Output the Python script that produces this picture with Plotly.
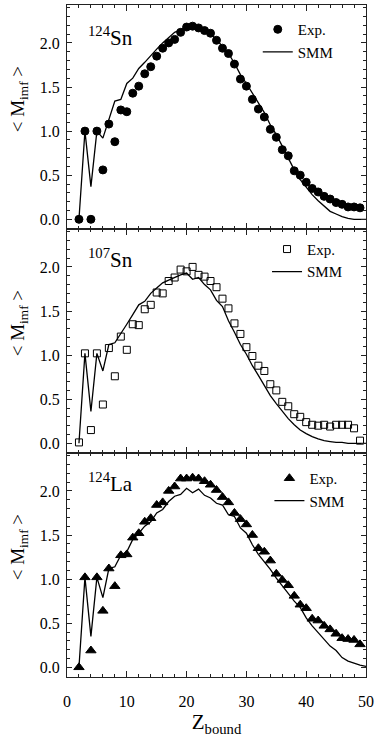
import plotly.graph_objects as go
from plotly.subplots import make_subplots

FONT = "Liberation Serif, Times New Roman, serif"

# Z_bound values
z_exp = list(range(2, 50))
z_smm = list(range(2, 51))

# 124Sn
sn124_exp = [0.0, 1.0, 0.0, 1.0, 0.56, 1.08, 0.88, 1.24, 1.22, 1.43, 1.51, 1.65, 1.73, 1.85, 1.94, 2.00,
             2.04, 2.12, 2.18, 2.19, 2.17, 2.14, 2.11, 2.03, 1.94, 1.88, 1.76, 1.59, 1.51, 1.36, 1.25, 1.16,
             1.02, 0.93, 0.79, 0.72, 0.55, 0.50, 0.42, 0.35, 0.31, 0.26, 0.23, 0.19, 0.17, 0.14, 0.14, 0.13]
sn124_smm = [0.0, 1.0, 0.37, 1.0, 0.92, 1.12, 1.34, 1.36, 1.54, 1.60, 1.71, 1.78, 1.86, 1.93, 2.00, 2.06,
             2.12, 2.15, 2.18, 2.19, 2.17, 2.13, 2.10, 2.04, 1.96, 1.88, 1.77, 1.64, 1.54, 1.43, 1.32, 1.21,
             1.07, 0.96, 0.83, 0.70, 0.56, 0.45, 0.36, 0.28, 0.21, 0.15, 0.09, 0.06, 0.03, 0.01, 0.0, 0.0, 0.0]

# 107Sn
sn107_exp = [0.01, 1.02, 0.15, 1.02, 0.44, 1.08, 0.76, 1.21, 1.06, 1.35, 1.34, 1.52, 1.57, 1.71, 1.70, 1.84,
             1.88, 1.97, 1.95, 2.00, 1.91, 1.89, 1.84, 1.77, 1.64, 1.53, 1.36, 1.24, 1.09, 0.99, 0.88, 0.82,
             0.67, 0.60, 0.47, 0.42, 0.33, 0.30, 0.24, 0.21, 0.20, 0.21, 0.19, 0.21, 0.21, 0.21, 0.17, 0.03]
sn107_smm = [0.0, 1.02, 0.36, 1.02, 0.82, 1.12, 1.14, 1.24, 1.35, 1.46, 1.57, 1.61, 1.70, 1.76, 1.82, 1.85,
             1.88, 1.91, 1.93, 1.86, 1.88, 1.80, 1.74, 1.62, 1.55, 1.39, 1.26, 1.12, 1.01, 0.88, 0.77, 0.66,
             0.54, 0.45, 0.36, 0.28, 0.21, 0.15, 0.11, 0.075, 0.05, 0.03, 0.02, 0.01, 0.01, 0.0, 0.0, 0.0, 0.0]

# 124La
la124_exp = [0.0, 1.02, 0.19, 1.02, 0.64, 1.12, 0.92, 1.27, 1.28, 1.47, 1.52, 1.65, 1.69, 1.84, 1.87, 2.00,
             2.05, 2.14, 2.14, 2.15, 2.14, 2.11, 2.07, 2.01, 1.93, 1.87, 1.75, 1.68, 1.62, 1.50, 1.35, 1.31,
             1.21, 1.06, 0.99, 0.93, 0.81, 0.71, 0.67, 0.55, 0.53, 0.47, 0.43, 0.38, 0.33, 0.32, 0.31, 0.26]
la124_smm = [0.0, 1.02, 0.35, 1.02, 0.79, 1.12, 1.14, 1.27, 1.31, 1.45, 1.52, 1.60, 1.65, 1.75, 1.79, 1.88,
             1.94, 1.96, 2.03, 1.98, 2.02, 1.95, 1.92, 1.86, 1.84, 1.73, 1.71, 1.58, 1.52, 1.39, 1.28, 1.20,
             1.11, 1.01, 0.92, 0.84, 0.75, 0.68, 0.56, 0.47, 0.39, 0.32, 0.24, 0.19, 0.11, 0.07, 0.045, 0.025, 0.01]

labels = ["<sup>124</sup>Sn", "<sup>107</sup>Sn", "<sup>124</sup>La"]

panels = [
    (sn124_exp, sn124_smm, "circle", 8, "legend"),
    (sn107_exp, sn107_smm, "square-open", 7, "legend2"),
    (la124_exp, la124_smm, "triangle-up", 9, "legend3"),
]

fig = make_subplots(rows=3, cols=1, shared_xaxes=True, vertical_spacing=0)

for i, (exp, smm, sym, size, leg) in enumerate(panels):
    row = i + 1
    fig.add_trace(go.Scatter(x=z_smm, y=smm, mode="lines", name="SMM",
                             line=dict(color="black", width=1.3),
                             legend=leg, legendrank=2), row=row, col=1)
    fig.add_trace(go.Scatter(x=z_exp, y=exp, mode="markers", name="Exp.",
                             marker=dict(symbol=sym, size=size, color="black",
                                         line=dict(color="black", width=1)),
                             legend=leg, legendrank=1), row=row, col=1)

axis_col = "#222"
fig.update_xaxes(range=[0, 50], tick0=0, dtick=10, ticks="inside", ticklen=6, tickcolor=axis_col,
                 minor=dict(ticks="inside", dtick=2, ticklen=3, tickcolor=axis_col),
                 showline=True, linecolor=axis_col, linewidth=1.2, mirror="ticks",
                 showgrid=False, zeroline=False, ticklabelstandoff=10,
                 tickfont=dict(family=FONT, size=16, color="black"))
fig.update_yaxes(range=[-0.11, 2.43], tick0=0, dtick=0.5, tickformat=".1f", ticks="inside", ticklen=5,
                 tickcolor=axis_col,
                 minor=dict(ticks="inside", dtick=0.1, ticklen=3, tickcolor=axis_col),
                 showline=True, linecolor=axis_col, linewidth=1.2, mirror="ticks",
                 showgrid=False, zeroline=False, ticklabelstandoff=3,
                 tickfont=dict(family=FONT, size=16, color="black"))
fig.update_xaxes(title=dict(text="Z<sub>bound</sub>", font=dict(family=FONT, size=21, color="black"),
                            standoff=4), row=3, col=1)

leg_style = dict(xanchor="left", yanchor="top", bgcolor="rgba(0,0,0,0)",
                 font=dict(family=FONT, size=15, color="black"), tracegroupgap=0)
fig.update_layout(
    legend=dict(x=0.638, y=0.988, **leg_style),
    legend2=dict(x=0.669, y=0.661, **leg_style),
    legend3=dict(x=0.677, y=0.32, **leg_style),
)

domains = ["y domain", "y2 domain", "y3 domain"]
label_y = [0.86, 0.87, 0.87]
for i in range(3):
    fig.add_annotation(text=labels[i], xref="paper", yref=domains[i], x=0.147, y=label_y[i],
                       xanchor="center", yanchor="middle",
                       showarrow=False, font=dict(family=FONT, size=21, color="black"))
    fig.add_annotation(text="&lt; M<sub>imf</sub> &gt;", xref="paper", yref=domains[i], x=-0.16, y=0.58,
                       xanchor="center", yanchor="middle",
                       textangle=-90, showarrow=False, font=dict(family=FONT, size=19, color="black"))

fig.update_layout(width=382, height=737, margin=dict(l=67, r=16, t=5, b=60),
                  plot_bgcolor="white", paper_bgcolor="white",
                  font=dict(family=FONT, color="black"))

fig.write_html("out.html", config={"displayModeBar": False},
               post_script="document.body.style.margin='0';")
